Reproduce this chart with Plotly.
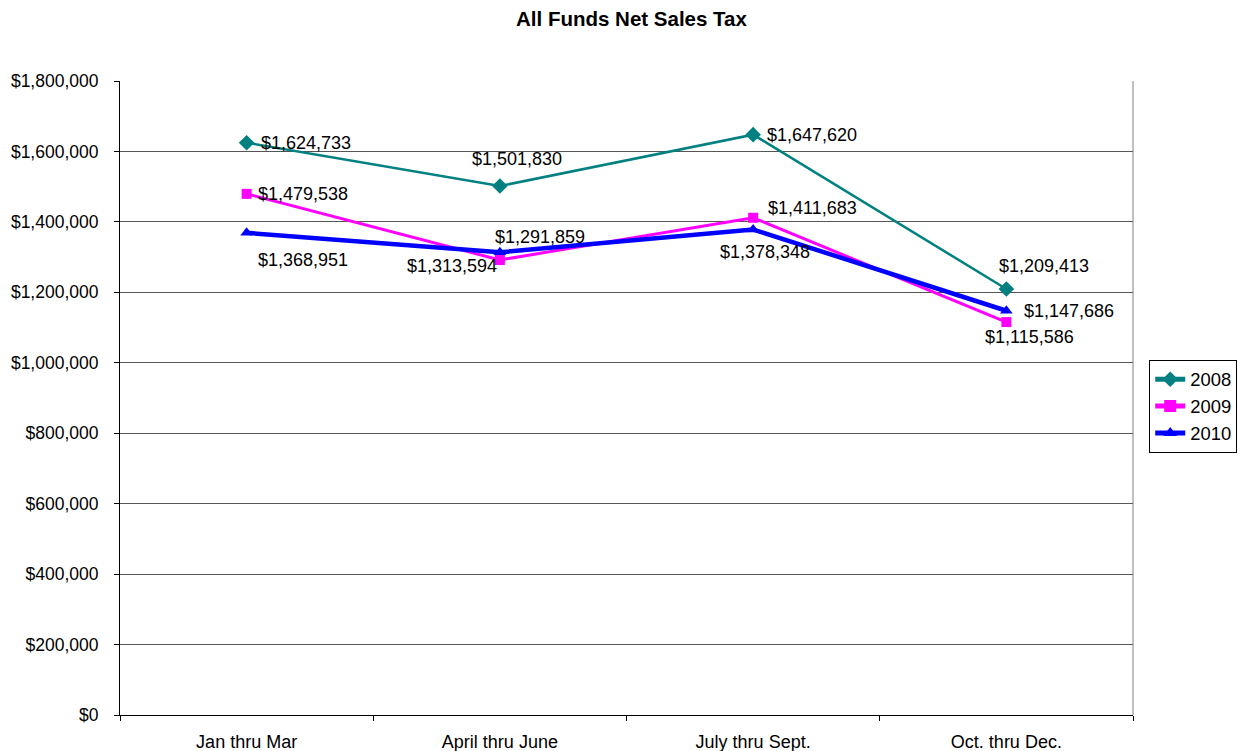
import plotly.graph_objects as go

categories = ["Jan thru Mar", "April thru June", "July thru Sept.", "Oct. thru Dec."]
sales_2008 = [1624733, 1501830, 1647620, 1209413]
sales_2009 = [1479538, 1291859, 1411683, 1115586]
sales_2010 = [1368951, 1313594, 1378348, 1147686]
y_ticks = [0, 200000, 400000, 600000, 800000, 1000000, 1200000, 1400000, 1600000, 1800000]
y_tick_labels = [f"${v:,}" for v in y_ticks]

FONT = "Liberation Sans, Arial, sans-serif"

series = [
    ("2008", sales_2008, "#008080", 2.5, "diamond", 12,
     [(59, 0), (17, 27), (59, 0), (38, 23)]),
    ("2009", sales_2009, "#FF00FF", 3, "square", 10,
     [(56, 0), (40, 23), (59, 10), (23, -15)]),
    ("2010", sales_2010, "#0000FF", 4.5, "triangle-up", 11,
     [(56, -27), (-48, -14), (12, -22), (63, 0)]),
]

fig = go.Figure()
annotations = []
for name, vals, color, lw, sym, ms, offs in series:
    fig.add_trace(go.Scatter(
        x=categories, y=vals, name=name, mode="lines+markers",
        line=dict(color=color, width=lw),
        marker=dict(symbol=sym, size=ms, color=color),
    ))
    for c, v, (dx, dy) in zip(categories, vals, offs):
        annotations.append(dict(
            x=c, y=v, xref="x", yref="y", text=f"${v:,}", showarrow=False,
            xshift=dx, yshift=dy, font=dict(family=FONT, size=18, color="black"),
        ))

fig.update_layout(
    width=1247, height=743,
    paper_bgcolor="white", plot_bgcolor="white",
    margin=dict(l=112, r=122, t=73, b=36, autoexpand=False),
    title=dict(text="<b>All Funds Net Sales Tax</b>", x=0.5, xanchor="center",
               y=1 - 11 / 743, yanchor="middle",
               font=dict(family=FONT, size=20.5, color="black")),
    font=dict(family=FONT, size=17, color="black"),
    annotations=annotations,
    showlegend=True,
    legend=dict(x=1.016, y=0.487, xanchor="left", yanchor="middle",
                bordercolor="black", borderwidth=1, bgcolor="white",
                font=dict(family=FONT, size=18.4, color="black"),
                tracegroupgap=0, itemsizing="constant"),
    shapes=[dict(type="line", xref="paper", yref="paper", x0=1, x1=1, y0=0, y1=1,
                 line=dict(color="#808080", width=1))],
)
fig.update_xaxes(
    type="category", range=[-0.5, 3.5], showgrid=False, automargin=False,
    showline=True, linecolor="black", linewidth=1,
    ticks="outside", tickson="boundaries", ticklen=5, tickcolor="black",
    ticklabelstandoff=10,
    tickfont=dict(family=FONT, size=18, color="black"),
)
fig.update_yaxes(
    range=[0, 1800000], tickvals=y_ticks, ticktext=y_tick_labels, automargin=False,
    showgrid=True, gridcolor="#555555", gridwidth=1,
    showline=True, linecolor="black", linewidth=1,
    ticks="outside", ticklen=5, tickcolor="black", zeroline=False,
    ticklabelstandoff=12,
    tickfont=dict(family=FONT, size=17.5, color="black"),
)

fig.write_html("out.html")
